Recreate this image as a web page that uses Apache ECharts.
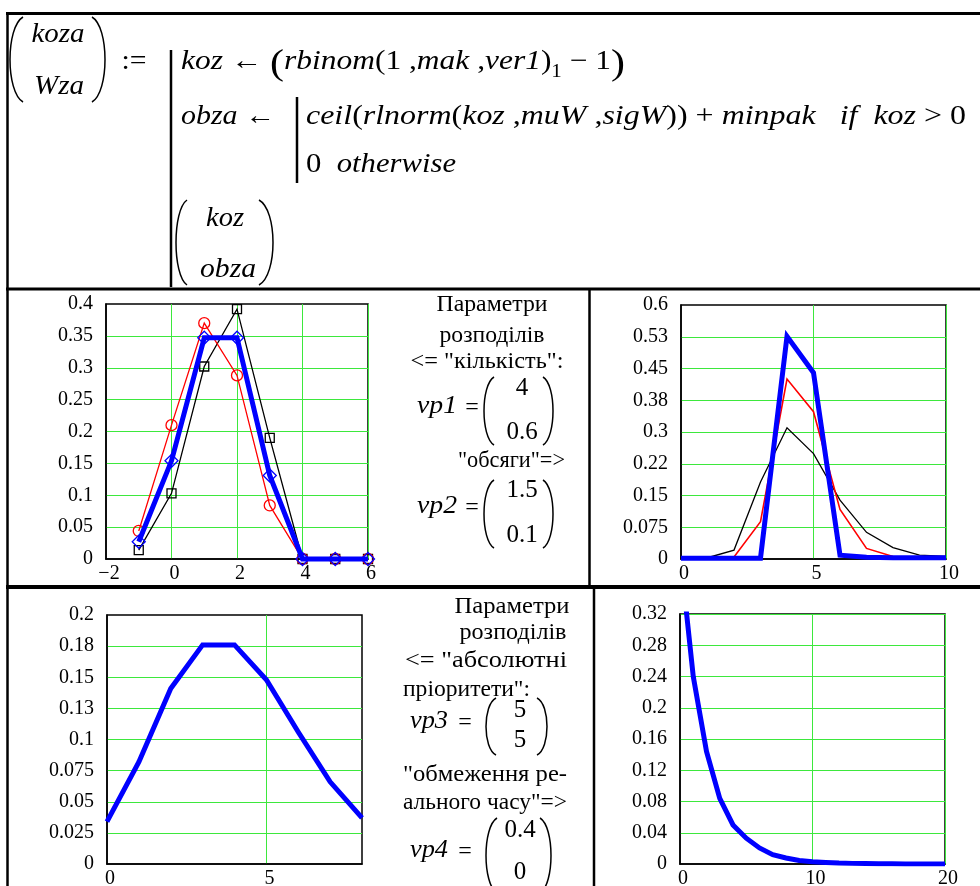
<!DOCTYPE html>
<html>
<head>
<meta charset="utf-8">
<script src="https://cdn.jsdelivr.net/npm/echarts@6/dist/echarts.min.js"></script>
<style>
  html, body { margin: 0; padding: 0; background: #fff; }
  #chart { width: 980px; height: 886px; }
</style>
</head>
<body>
<div id="chart"></div>
<script>
// --- chart data ---
const c1X = [-1, 0, 1, 2, 3, 4, 5, 6]
const c1Red = [0.044, 0.21, 0.37, 0.288, 0.084, 0, 0, 0]
const c1Black = [0.014, 0.103, 0.302, 0.392, 0.19, 0, 0, 0]
const c1Blue = [0.027, 0.154, 0.347, 0.347, 0.131, 0, 0, 0]

const c2X = [0, 1, 2, 3, 4, 5, 6, 7, 8, 9, 10]
const c2Black = [0.001, 0.003, 0.021, 0.182, 0.31, 0.249, 0.139, 0.063, 0.027, 0.009, 0.006]
const c2Red = [0.002, 0.003, 0.005, 0.088, 0.425, 0.348, 0.117, 0.025, 0.006, 0.004, 0.003]
const c2Blue = [0.002, 0.002, 0.002, 0.002, 0.526, 0.44, 0.009, 0.004, 0.003, 0.003, 0.003]
const c2YLabels = ['0', '0.075', '0.15', '0.22', '0.3', '0.38', '0.45', '0.53', '0.6']

const c3X = [0, 1, 2, 3, 4, 5, 6, 7, 8]
const c3Blue = [0.034, 0.082, 0.141, 0.176, 0.176, 0.148, 0.106, 0.066, 0.037]
const c3YLabels = ['0', '0.025', '0.05', '0.075', '0.1', '0.13', '0.15', '0.18', '0.2']

const c4X = [0, 1, 2, 3, 4, 5, 6, 7, 8, 9, 10, 11, 12, 13, 14, 15, 16, 17, 18, 19, 20]
const c4Blue = [0.4, 0.24, 0.144, 0.084, 0.05, 0.033, 0.0205, 0.012, 0.0077, 0.0045, 0.003,
  0.002, 0.0012, 0.0008, 0.0005, 0.0003, 0.0002, 0.0001, 0.0001, 0.0001, 0.0001]

const SERIF = '"Liberation Serif", "Times New Roman", serif'
const GREEN = '#3de83d'

const pts = (xs, ys) => xs.map((x, i) => [x, ys[i]])

// text measuring, used to fit the formula pieces to the sheet widths
const ctx = document.createElement('canvas').getContext('2d')
const measure = (t, size, it) => {
  ctx.font = (it ? 'italic ' : '') + size + 'px ' + SERIF
  return ctx.measureText(t).width
}

const G = []

const text = (t, x, y, o = {}) => {
  const size = o.size || 24
  let sx = 1
  if (o.w) sx = o.w / measure(t, size, o.it)
  return {
    type: 'text', x, y, scaleX: sx, silent: true,
    style: {
      text: t, x: 0, y: 0, fill: '#000',
      fontSize: size, fontFamily: SERIF, fontStyle: o.it ? 'italic' : 'normal',
      textAlign: o.align || 'left', align: o.align || 'left',
      textVerticalAlign: 'middle', verticalAlign: 'middle'
    }
  }
}

// a formula line made of pieces, stretched to the target width
const row = (pieces, x, y, target) => {
  const base = 27
  const ws = pieces.map(p => measure(p.t, p.size || base, p.it))
  const total = ws.reduce((a, b) => a + b, 0)
  const s = target ? target / total : 1
  let cx = x
  pieces.forEach((p, i) => {
    const el = text(p.t, cx, y + (p.dy || 0), { size: p.size || base, it: p.it })
    el.scaleX = s
    G.push(el)
    cx += ws[i] * s
  })
}

const hl = (x1, x2, y, w) => G.push({ type: 'line', silent: true, shape: { x1, y1: y, x2, y2: y }, style: { stroke: '#000', lineWidth: w } })
const vl = (x, y1, y2, w) => G.push({ type: 'line', silent: true, shape: { x1: x, y1, x2: x, y2 }, style: { stroke: '#000', lineWidth: w } })

// big bracket: tips at xTip, belly at xOut
const paren = (xTip, xOut, y1, y2) => {
  const cp = (xOut - 0.25 * xTip) / 0.75
  const a = (y2 - y1) * 0.12
  G.push({
    type: 'bezierCurve', silent: true,
    shape: { x1: xTip, y1, x2: xTip, y2, cpx1: cp, cpy1: y1 + a, cpx2: cp, cpy2: y2 - a },
    style: { stroke: '#000', lineWidth: 1.5, fill: null }
  })
}

// table frame
hl(6, 980, 13.5, 3)
hl(6, 980, 289, 3)
hl(6, 980, 587, 4)
vl(7.5, 12, 886, 2.5)
vl(589.5, 289, 587, 2.5)
vl(594, 587, 886, 2.5)

// formula block
paren(23, 10, 17, 102)
paren(92, 105, 17, 102)
G.push(text('koza', 58, 35, { size: 27, it: true, align: 'center', w: 53 }))
G.push(text('Wza', 59, 87, { size: 27, it: true, align: 'center', w: 50 }))
G.push(text(':=', 134, 62, { size: 27, align: 'center', w: 25 }))
vl(171, 50, 287, 2.5)
row([
  { t: 'koz', it: true }, { t: ' ← ' }, { t: '(', size: 36, dy: 3 },
  { t: 'rbinom', it: true }, { t: '(1 ,' }, { t: 'mak', it: true }, { t: ' ,' },
  { t: 'ver1', it: true }, { t: ')' }, { t: '1', size: 18, dy: 10 },
  { t: ' − 1' }, { t: ')', size: 36, dy: 3 }
], 181, 62, 444)
row([{ t: 'obza', it: true }, { t: ' ←' }], 181, 117, 94)
vl(297, 97, 183, 2.5)
row([
  { t: 'ceil', it: true }, { t: '(' }, { t: 'rlnorm', it: true }, { t: '(' },
  { t: 'koz', it: true }, { t: ' ,' }, { t: 'muW', it: true }, { t: ' ,' },
  { t: 'sigW', it: true }, { t: ')) + ' }, { t: 'minpak', it: true }, { t: '   ' },
  { t: 'if', it: true }, { t: '  ' }, { t: 'koz', it: true }, { t: ' > 0' }
], 306, 117, 660)
row([{ t: '0  ' }, { t: 'otherwise', it: true }], 306, 165, 150)
paren(187, 176, 200, 285)
paren(259, 273, 200, 285)
G.push(text('koz', 225, 219, { size: 27, it: true, align: 'center', w: 38 }))
G.push(text('obza', 228, 270, { size: 27, it: true, align: 'center', w: 56 }))

// parameter notes, middle of row 2
G.push(text('Параметри', 492, 305, { align: 'center', w: 111 }))
G.push(text('розподілів', 492, 336, { align: 'center', w: 105 }))
G.push(text('<= "кількість":', 487, 362, { align: 'center', w: 153 }))
G.push(text('vp1', 417, 406, { size: 26, it: true, w: 40 }))
G.push(text('=', 472, 408, { align: 'center' }))
paren(494, 484, 377, 445)
paren(543, 553, 377, 445)
G.push(text('4', 522, 388, { size: 25, align: 'center' }))
G.push(text('0.6', 522, 432, { size: 25, align: 'center' }))
G.push(text('"обсяги"=>', 565, 461, { align: 'right', w: 107 }))
G.push(text('vp2', 417, 506, { size: 26, it: true, w: 40 }))
G.push(text('=', 472, 508, { align: 'center' }))
paren(494, 484, 480, 548)
paren(543, 553, 480, 548)
G.push(text('1.5', 522, 490, { size: 25, align: 'center' }))
G.push(text('0.1', 522, 535, { size: 25, align: 'center' }))

// parameter notes, middle of row 3
G.push(text('Параметри', 512, 607, { align: 'center', w: 115 }))
G.push(text('розподілів', 513, 633, { align: 'center', w: 107 }))
G.push(text('<= "абсолютні', 405, 661, { w: 162 }))
G.push(text('пріоритети":', 403, 690, { w: 127 }))
G.push(text('vp3', 410, 721, { size: 26, it: true, w: 38 }))
G.push(text('=', 465, 723, { align: 'center' }))
paren(496, 486, 698, 755)
paren(537, 547, 698, 755)
G.push(text('5', 520, 710, { size: 25, align: 'center' }))
G.push(text('5', 520, 740, { size: 25, align: 'center' }))
G.push(text('"обмеження ре-', 403, 775, { w: 164 }))
G.push(text('ального часу"=>', 403, 803, { w: 164 }))
G.push(text('vp4', 410, 850, { size: 26, it: true, w: 38 }))
G.push(text('=', 465, 852, { align: 'center' }))
paren(497, 486, 818, 893)
paren(540, 551, 818, 893)
G.push(text('0.4', 520, 830, { size: 25, align: 'center' }))
G.push(text('0', 520, 872, { size: 25, align: 'center' }))

// --- axes ---
const grid = (left, top, width, height) => ({
  left, top, width, height, containLabel: false, outerBoundsMode: 'none',
  show: true, borderColor: '#000', borderWidth: 1.5
})

const xAx = (gi, min, max, interval, fmt, maxLine = true) => ({
  type: 'value', gridIndex: gi, min, max, interval,
  axisLine: { show: true, onZero: false, lineStyle: { color: '#000', width: 1.5 } },
  axisTick: { show: false },
  splitLine: { show: true, showMinLine: false, showMaxLine: maxLine, lineStyle: { color: GREEN, width: 1 } },
  axisLabel: { color: '#000', fontFamily: SERIF, fontSize: 20, margin: 5, padding: [0, 0, 0, 6], formatter: fmt }
})

const yAx = (gi, min, max, interval, fmt, maxLine = false) => ({
  type: 'value', gridIndex: gi, min, max, interval,
  axisLine: { show: true, onZero: false, lineStyle: { color: '#000', width: 1.5 } },
  axisTick: { show: false },
  splitLine: { show: true, showMinLine: false, showMaxLine: maxLine, lineStyle: { color: GREEN, width: 1 } },
  axisLabel: { color: '#000', fontFamily: SERIF, fontSize: 20, margin: 13, formatter: fmt }
})

const thin = (gi, data, color, symbol, size, width) => ({
  type: 'line', xAxisIndex: gi, yAxisIndex: gi, data,
  symbol: symbol || 'none', symbolSize: size || 0, showSymbol: !!symbol, showAllSymbol: true,
  itemStyle: { color: 'rgba(0,0,0,0)', borderColor: color, borderWidth: 1.3 },
  lineStyle: { color, width: width || 1.3, join: 'miter' },
  clip: gi > 1, silent: true, z: width > 3 ? 4 : 3
})

const chart = echarts.init(document.getElementById('chart'))
chart.setOption({
  animation: false,
  backgroundColor: '#fff',
  grid: [
    grid(106, 304, 262, 255),
    grid(681, 305, 265, 254),
    grid(107, 615, 255, 249),
    grid(680, 614, 265, 250)
  ],
  xAxis: [
    xAx(0, -2, 6, 2, v => String(v).replace('-', '−')),
    xAx(1, 0, 10, 5),
    xAx(2, 0, 8, 5, v => (v % 5 === 0 ? String(v) : ''), false),
    xAx(3, 0, 20, 10)
  ],
  yAxis: [
    yAx(0, 0, 0.4, 0.05),
    yAx(1, 0, 0.6, 0.075, v => c2YLabels[Math.round(v / 0.075)]),
    yAx(2, 0, 0.2, 0.025, v => c3YLabels[Math.round(v / 0.025)]),
    yAx(3, 0, 0.32, 0.04, null, true)
  ],
  series: [
    thin(0, pts(c1X, c1Black), '#000', 'rect', 9, 1.3),
    thin(0, pts(c1X, c1Red), '#ff0000', 'circle', 11, 1.3),
    thin(0, pts(c1X, c1Blue), '#0000ff', 'diamond', 13, 5),
    thin(1, pts(c2X, c2Black), '#000', null, 0, 1.3),
    thin(1, pts(c2X, c2Red), '#ff0000', null, 0, 1.6),
    thin(1, pts(c2X, c2Blue), '#0000ff', null, 0, 5),
    thin(2, pts(c3X, c3Blue), '#0000ff', null, 0, 5),
    thin(3, pts(c4X, c4Blue), '#0000ff', null, 0, 5)
  ],
  graphic: G
})
</script>
</body>
</html>
